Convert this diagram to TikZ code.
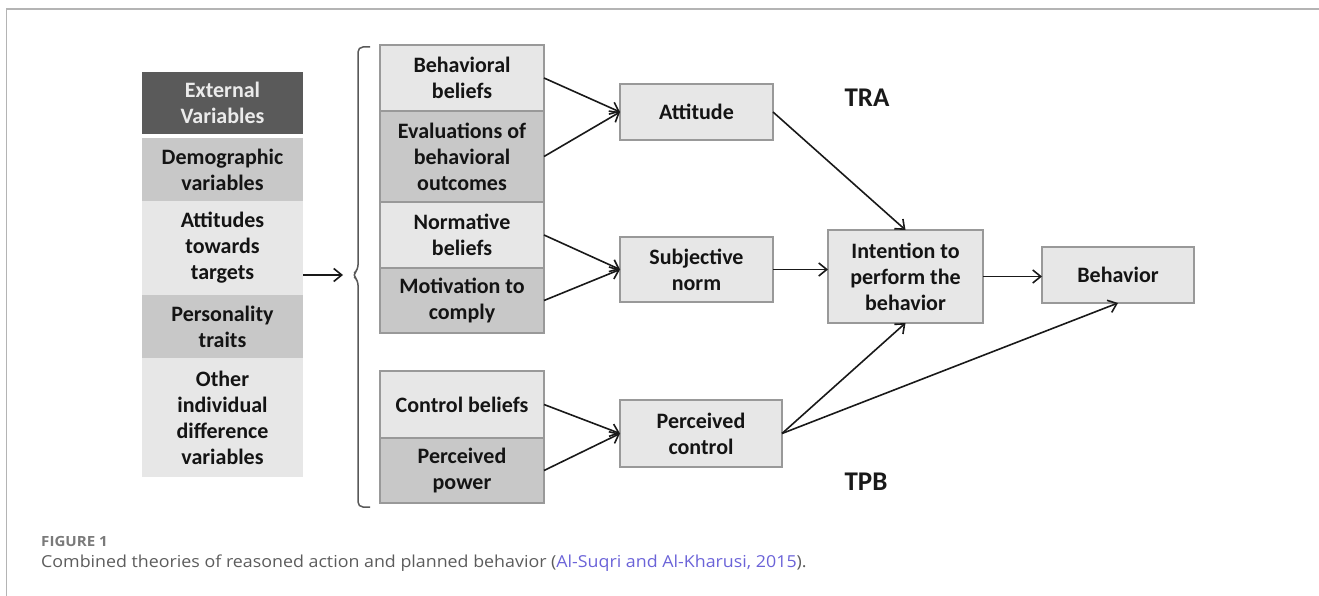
\documentclass[tikz,border=0pt]{standalone}
\usepackage{fontspec}
\setmainfont{Carlito}
\newfontfamily\capfont[FakeStretch=1.08]{Open Sans}
\usepackage{tikz}
\usetikzlibrary{arrows.meta, positioning, calc}
\definecolor{trDark}{HTML}{5A5A5A}
\definecolor{trMid}{HTML}{C8C8C8}
\definecolor{trLight}{HTML}{E7E7E7}
\definecolor{trEdge}{HTML}{999999}
\definecolor{trFrame}{HTML}{B4B4B4}
\definecolor{trCap}{HTML}{5C5C5C}
\definecolor{trLink}{HTML}{6B63D8}
\tikzset{
  trnode/.style={
    rectangle, inner sep=2pt, outer sep=0pt, align=center,
    font=\fontsize{22}{26}\selectfont\bfseries, text=black!92
  },
  extbox/.style={trnode, minimum width=161pt},
  midbox/.style={trnode, draw=trEdge, line width=1.2pt, minimum width=164pt},
  thbox/.style={trnode, draw=trEdge, line width=1.2pt, fill=trLight},
  trarrow/.style={-{Straight Barb[length=8pt, width=13pt]}, line width=1.6pt, black!90},
  bracket/.style={draw=black!65, line width=1.5pt, rounded corners=5pt},
  theory/.style={font=\fontsize{27}{30}\selectfont\bfseries, text=black!90},
  caption/.style={anchor=base west, text=trCap, inner sep=0pt}
}

\begin{document}
\begin{tikzpicture}[x=1pt, y=-1pt, node distance=0pt]
  \useasboundingbox (0,0) rectangle (1319,596);
  \draw[trFrame, line width=1.5pt] (6.5,596) -- (6.5,9) -- (1319,9);

  % external variables
  \node[extbox, fill=trDark, text=black!8, minimum height=62pt, anchor=north west] (ext) at (142,72) {External\\Variables};
  \node[extbox, fill=trMid, minimum height=63pt, below=4pt of ext] (demo) {Demographic\\variables};
  \node[extbox, fill=trLight, minimum height=94pt, below=of demo] (att) {Attitudes\\towards\\targets};
  \node[extbox, fill=trMid, minimum height=63pt, below=of att] (pers) {Personality\\traits};
  \node[extbox, fill=trLight, minimum height=119pt, below=of pers] (other) {Other\\individual\\difference\\variables};

  % bracket
  \coordinate (brin) at (343,275);
  \draw[bracket] (370,47) -- (358,47) -- (358,270) -- (352,275) -- (358,280) -- (358,507) -- (370,507);
  \draw[trarrow] (att.east |- brin) -- (brin);

  % beliefs
  \node[midbox, fill=trLight, minimum height=66pt, anchor=north west] (bb) at (380,45) {Behavioral\\beliefs};
  \node[midbox, fill=trMid, minimum height=91pt, below=of bb] (ev) {Evaluations of\\behavioral\\outcomes};
  \node[midbox, fill=trLight, minimum height=66pt, below=of ev] (nb) {Normative\\beliefs};
  \node[midbox, fill=trMid, minimum height=65pt, below=of nb] (mc) {Motivation to\\comply};
  \node[midbox, fill=trLight, minimum height=67pt, anchor=north west] (cb) at (380,371) {Control beliefs};
  \node[midbox, fill=trMid, minimum height=65pt, below=of cb] (pp) {Perceived\\power};

  % constructs
  \node[thbox, minimum width=153pt, minimum height=56pt] (attd) at (696.5,112) {Attitude};
  \node[thbox, minimum width=153pt, minimum height=65pt] (subj) at (696.5,269.5) {Subjective\\norm};
  \node[thbox, minimum width=162pt, minimum height=67pt] (pcon) at (701,433.5) {Perceived\\control};
  \node[thbox, minimum width=155pt, minimum height=93pt] (intent) at (905.5,276.5) {Intention to\\perform the\\behavior};
  \node[thbox, minimum width=152pt, minimum height=56pt] (beh) at (1118,275) {Behavior};

  \node[theory] (tra) at (867,98) {TRA};
  \node[theory] (tpb) at (866,482) {TPB};

  \draw[trarrow] (bb.east) -- (attd.west);
  \draw[trarrow] (ev.east) -- (attd.west);
  \draw[trarrow] (nb.east) -- (subj.west);
  \draw[trarrow] (mc.east) -- (subj.west);
  \draw[trarrow] (cb.east) -- (pcon.west);
  \draw[trarrow] (pp.east) -- (pcon.west);
  \draw[trarrow] (attd.east) -- (intent.north);
  \draw[trarrow] (subj.east) -- (subj.east -| intent.west);
  \draw[trarrow] (intent.east) -- (intent.east -| beh.west);
  \draw[trarrow] (pcon.east) -- (intent.south);
  \draw[trarrow] (pcon.east) -- (beh.south);

  % caption
  \node[caption, font=\capfont\bfseries\fontsize{14}{16}\selectfont, text=black!52] (figno) at (41,546) {FIGURE 1};
  \node[caption, font=\capfont\fontsize{16.5}{20}\selectfont] (cap) at (41,567) {Combined theories of reasoned action and planned behavior (\textcolor{trLink}{Al-Suqri and Al-Kharusi, 2015}).};
\end{tikzpicture}
\end{document}
